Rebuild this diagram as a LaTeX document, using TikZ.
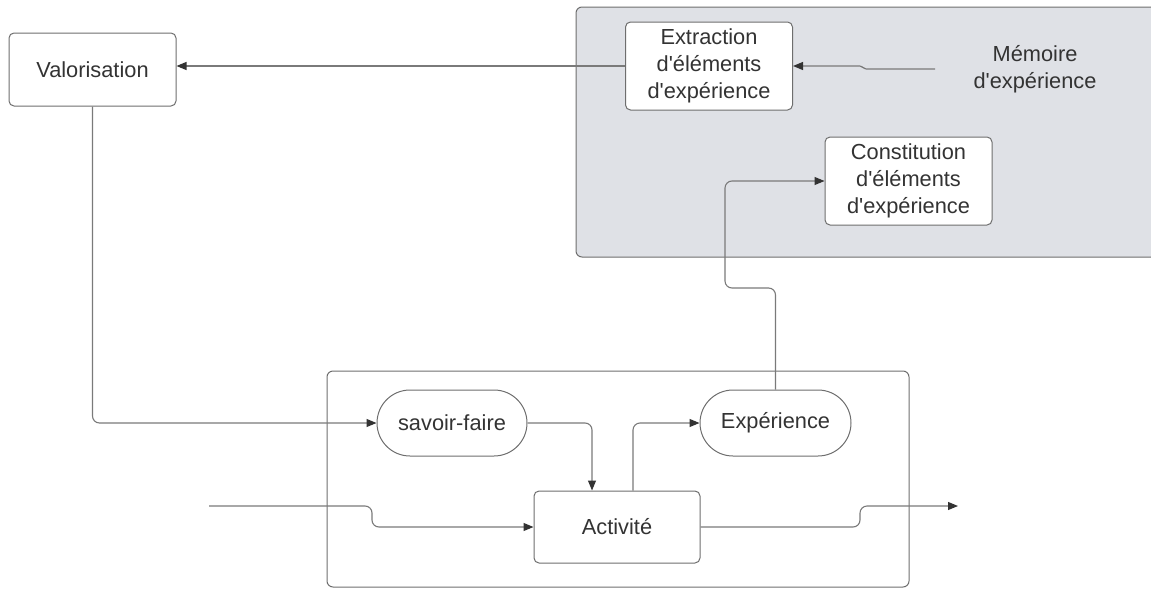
\documentclass[tikz,border=0pt]{standalone}
\usepackage{fontspec}
\setmainfont{Liberation Sans}
\usetikzlibrary{arrows.meta}
\definecolor{linegray}{HTML}{7A7A7A}
\definecolor{boxgray}{HTML}{6E6E6E}
\definecolor{tipgray}{HTML}{333333}
\definecolor{txt}{HTML}{333333}
\definecolor{panel}{HTML}{DFE1E6}
\newcommand{\ap}{\textquotesingle}
\begin{document}
\begin{tikzpicture}[x=1pt,y=-1pt,
  lbl/.style={text=txt, align=center, font=\fontsize{21.8}{27}\selectfont, inner sep=0pt},
  box/.style={lbl, draw=boxgray, line width=1pt, rounded corners=5pt, fill=white},
  pill/.style={box, rounded corners=33pt},
  conn/.style={draw=linegray, line width=1.1pt, rounded corners=7pt},
  arr/.style={conn, -{Triangle[length=10pt,width=8pt,fill=tipgray,color=tipgray]}},
  frame/.style={draw=boxgray, line width=1pt, rounded corners=6pt}]
\useasboundingbox (0,0) rectangle (1151,589);
\clip (0,0) rectangle (1151,589);

% memory panel and activity frame
\path[frame, fill=panel] (576,7) rectangle (1170,257);
\path[frame] (327,371) rectangle (909,587);

% nodes
\node[box, minimum width=167pt, minimum height=73pt] (valo) at (92.5,69.5) {Valorisation};
\node[box, minimum width=167pt, minimum height=88pt] (extr) at (709,66) {Extraction\\d\ap éléments\\d\ap expérience};
\node[box, minimum width=167pt, minimum height=88pt] (const) at (908.5,181) {Constitution\\d\ap éléments\\d\ap expérience};
\node[lbl] (mem) at (1035,69) {Mémoire\\d\ap expérience};
\node[pill, minimum width=150pt, minimum height=66pt] (sf) at (452,423) {savoir-faire};
\node[pill, minimum width=151pt, minimum height=66pt] (exp) at (775.5,423) {Expérience};
\node[box, minimum width=166pt, minimum height=72pt] (act) at (617,527) {Activité};

\coordinate (memsrc) at (935,69);
\coordinate (insrc) at (209,506);
\coordinate (outdst) at (958,506);

% connectors
\draw[arr] (extr.west) -- (extr.west -| valo.east);
\draw[arr, rounded corners=2pt] (memsrc) -- (864,69) -- (862,66) -- (extr.east |- 0,66);
\draw[arr] (valo.south) |- (sf.west);
\draw[arr] (sf.east) -| ([xshift=-25pt]act.north);
\draw[arr] ([xshift=16pt]act.north) |- (exp.west);
\draw[arr] (exp.north) |- (725,288) |- (const.west);
\draw[arr] (insrc) -- (372,506) -- (372,527) -- (act.west);
\draw[arr] (act.east) -- (860,527) -- (860,506) -- (outdst);
\end{tikzpicture}
\end{document}
